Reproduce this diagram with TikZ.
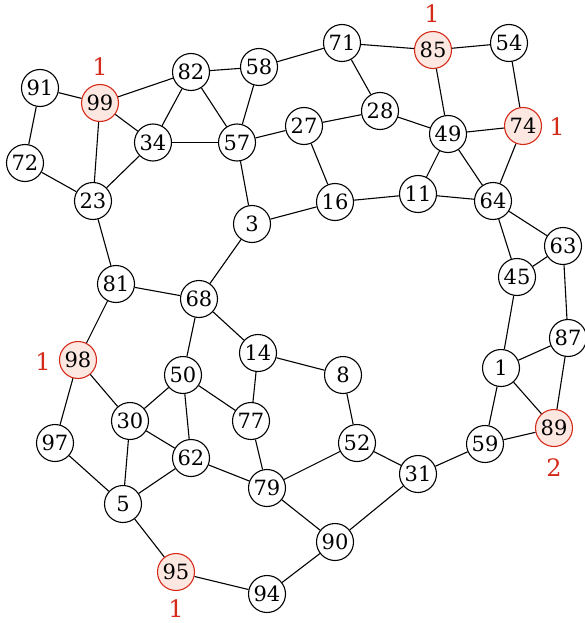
\documentclass[tikz,border=0pt]{standalone}
\usepackage{fontspec}
\setmainfont{DejaVu Serif}
\definecolor{hlred}{HTML}{D42A1A}
\definecolor{hlfill}{HTML}{FCE8E1}
\begin{document}
\begin{tikzpicture}[x=1pt,y=-1pt,
  vtx/.style={circle,draw=black,line width=1.1pt,fill=white,minimum size=37pt,inner sep=0pt,font=\fontsize{21}{21}\selectfont},
  hl/.style={vtx,draw=hlred,fill=hlfill},
  cnt/.style={text=hlred,inner sep=0pt,font=\fontsize{24}{24}\selectfont},
  edge/.style={line width=1.1pt}]
\useasboundingbox (0,0) rectangle (585,623);
\node[vtx] (91) at (40,88) {91};
\node[hl]  (99) at (100,103) {99};
\node[vtx] (82) at (191,72) {82};
\node[vtx] (58) at (259,67) {58};
\node[vtx] (34) at (153,142.5) {34};
\node[vtx] (57) at (237,142.5) {57};
\node[vtx] (72) at (25,163) {72};
\node[vtx] (23) at (93,201) {23};
\node[vtx] (3) at (252,224) {3};
\node[vtx] (71) at (342,43) {71};
\node[hl]  (85) at (433,50) {85};
\node[vtx] (54) at (509,43) {54};
\node[vtx] (28) at (380,111) {28};
\node[vtx] (27) at (304,126) {27};
\node[vtx] (49) at (448,134) {49};
\node[hl]  (74) at (523,126) {74};
\node[vtx] (16) at (335,202) {16};
\node[vtx] (11) at (418,194) {11};
\node[vtx] (64) at (493,201) {64};
\node[vtx] (63) at (563,246) {63};
\node[vtx] (81) at (116,284) {81};
\node[vtx] (68) at (199,299) {68};
\node[hl]  (98) at (78,360) {98};
\node[vtx] (14) at (258,353) {14};
\node[vtx] (50) at (183,375) {50};
\node[vtx] (30) at (130,421) {30};
\node[vtx] (77) at (251,421) {77};
\node[vtx] (97) at (55,443) {97};
\node[vtx] (62) at (191,458) {62};
\node[vtx] (79) at (267,488) {79};
\node[vtx] (5) at (123,504) {5};
\node[hl]  (95) at (176,572) {95};
\node[vtx] (94) at (267,594) {94};
\node[vtx] (45) at (517,277) {45};
\node[vtx] (87) at (568,338) {87};
\node[vtx] (1) at (501,368) {1};
\node[vtx] (8) at (343,375) {8};
\node[hl]  (89) at (554,428) {89};
\node[vtx] (52) at (357,443) {52};
\node[vtx] (59) at (485,444) {59};
\node[vtx] (31) at (418,474) {31};
\node[vtx] (90) at (335,542) {90};
\node[cnt] (c99) at (100,67) {1};
\node[cnt] (c85) at (432,14) {1};
\node[cnt] (c74) at (557,127) {1};
\node[cnt] (c98) at (43,362) {1};
\node[cnt] (c89) at (554,468) {2};
\node[cnt] (c95) at (176,609) {1};
\foreach \a/\b in {91/99,91/72,72/23,99/23,99/82,99/34,34/23,34/82,34/57,82/58,82/57,58/57,58/71,71/85,71/28,85/54,85/49,54/74,57/27,57/3,27/28,27/16,28/49,49/74,49/11,49/64,74/64,11/16,11/64,16/3,3/68,64/63,64/45,45/63,63/87,45/1,87/1,87/89,1/89,1/59,59/89,59/31,23/81,81/68,81/98,98/97,98/30,68/50,68/14,14/8,14/77,50/30,50/62,50/77,30/62,30/5,97/5,62/5,62/79,77/79,8/52,52/79,52/31,31/90,79/90,5/95,95/94,94/90}
  \draw[edge] (\a) -- (\b);
\end{tikzpicture}
\end{document}
